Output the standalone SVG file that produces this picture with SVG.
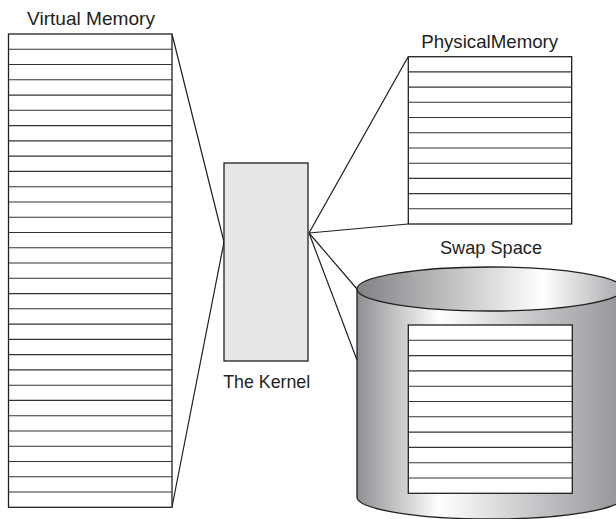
<svg xmlns="http://www.w3.org/2000/svg" width="616" height="519" viewBox="0 0 616 519">
  <style>
    .frame { fill: #ffffff; stroke: #231f20; stroke-width: 1.3; }
    .rows { fill: none; stroke: #333335; stroke-width: 1.1; }
    .link { fill: none; stroke: #231f20; stroke-width: 1.2; }
    .label { font-family: "Liberation Sans", Arial, sans-serif; font-size: 19px; fill: #231f20; text-anchor: middle; }
  </style>
  <defs>
    <linearGradient id="bodyShade" gradientUnits="userSpaceOnUse" x1="357" y1="0" x2="623" y2="0">
      <stop offset="0" stop-color="#8d8f92"/>
      <stop offset="0.31" stop-color="#ffffff"/>
      <stop offset="0.6" stop-color="#cfd0d2"/>
      <stop offset="1" stop-color="#939598"/>
    </linearGradient>
    <linearGradient id="lidShade" gradientUnits="userSpaceOnUse" x1="357" y1="0" x2="623" y2="0">
      <stop offset="0" stop-color="#808285"/>
      <stop offset="0.7" stop-color="#ffffff"/>
      <stop offset="1" stop-color="#a7a9ac"/>
    </linearGradient>
  </defs>

  <!-- connectors -->
  <g id="connectors">
    <polyline class="link" points="172,34 224,242 172,507"/>
    <line class="link" x1="309" y1="233" x2="408" y2="57"/>
    <line class="link" x1="309" y1="233" x2="408" y2="224"/>
    <line class="link" x1="309" y1="233" x2="357" y2="289"/>
    <line class="link" x1="309" y1="233" x2="357" y2="360"/>
  </g>

  <!-- virtual memory: 31 pages -->
  <g id="virtual-memory">
    <text class="label" x="91" y="25" textLength="128" lengthAdjust="spacingAndGlyphs">Virtual Memory</text>
    <rect class="frame" x="8.5" y="34" width="163.5" height="473.3"/>
    <path class="rows" d="M8.5,49.3H172M8.5,64.5H172M8.5,79.8H172M8.5,95.1H172M8.5,110.3H172M8.5,125.6H172M8.5,140.9H172M8.5,156.1H172M8.5,171.4H172M8.5,186.7H172M8.5,202H172M8.5,217.2H172M8.5,232.5H172M8.5,247.8H172M8.5,263H172M8.5,278.3H172M8.5,293.6H172M8.5,308.8H172M8.5,324.1H172M8.5,339.4H172M8.5,354.6H172M8.5,369.9H172M8.5,385.2H172M8.5,400.4H172M8.5,415.7H172M8.5,431H172M8.5,446.2H172M8.5,461.5H172M8.5,476.8H172M8.5,492H172"/>
  </g>

  <!-- kernel -->
  <g id="kernel">
    <rect x="224" y="163" width="84" height="198" fill="#e6e7e8" stroke="#231f20" stroke-width="1.3"/>
    <text class="label" x="266.7" y="388" textLength="87" lengthAdjust="spacingAndGlyphs">The Kernel</text>
  </g>

  <!-- physical memory: 11 frames -->
  <g id="physical-memory">
    <text class="label" x="489.7" y="48.3" textLength="137" lengthAdjust="spacingAndGlyphs">PhysicalMemory</text>
    <rect class="frame" x="408.3" y="56.7" width="163.4" height="167.3"/>
    <path class="rows" d="M408.3,71.9H571.7M408.3,87.1H571.7M408.3,102.3H571.7M408.3,117.5H571.7M408.3,132.8H571.7M408.3,148H571.7M408.3,163.2H571.7M408.3,178.4H571.7M408.3,193.6H571.7M408.3,208.8H571.7"/>
  </g>

  <!-- swap space: disk cylinder holding 11 slots -->
  <g id="swap-space">
    <text class="label" x="491" y="254" textLength="102" lengthAdjust="spacingAndGlyphs">Swap Space</text>
    <path d="M357,289 L357,497 A133,22 0 0 0 623,497 L623,289 Z" fill="url(#bodyShade)" stroke="#231f20" stroke-width="1.3"/>
    <ellipse cx="490" cy="289" rx="133" ry="22" fill="url(#lidShade)" stroke="#231f20" stroke-width="1.3"/>
    <rect class="frame" x="408.3" y="325" width="164" height="168.3"/>
    <path class="rows" d="M408.3,340.3H572.3M408.3,355.6H572.3M408.3,370.9H572.3M408.3,386.2H572.3M408.3,401.5H572.3M408.3,416.8H572.3M408.3,432.1H572.3M408.3,447.4H572.3M408.3,462.7H572.3M408.3,478H572.3"/>
  </g>
</svg>
